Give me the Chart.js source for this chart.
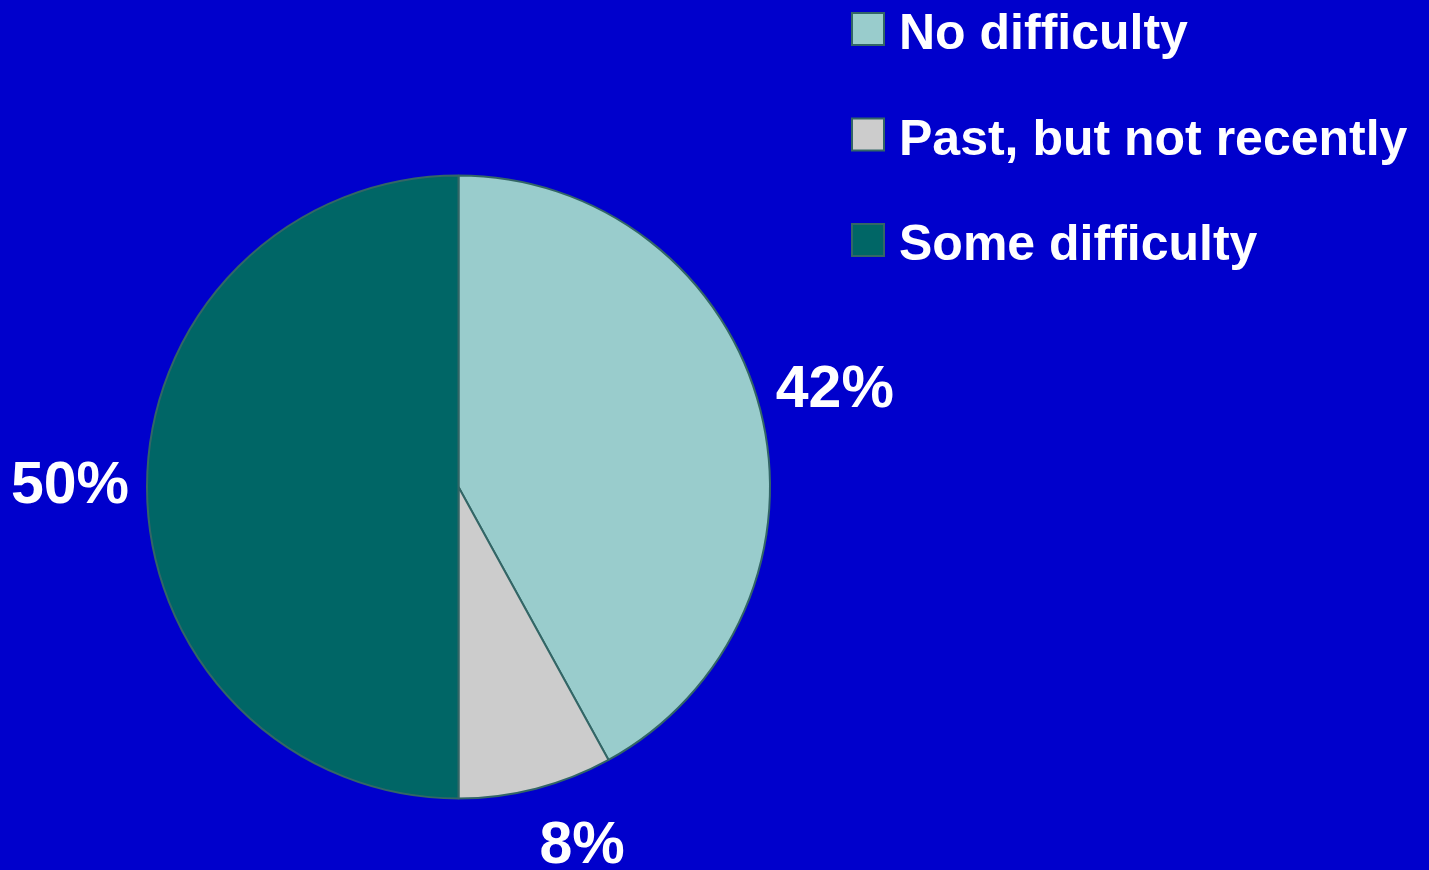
<!DOCTYPE html>
<html>
<head>
<meta charset="utf-8">
<title>Difficulty</title>
<script src="https://cdn.jsdelivr.net/npm/chart.js@4/dist/chart.umd.min.js"></script>
<style>
    html, body { margin: 0; padding: 0; background: #0000cc; }
    #wrap { width: 1429px; height: 870px; position: relative; }
</style>
</head>
<body>
<div id="wrap"><canvas id="pie-chart"></canvas></div>
<script>
// Survey answers
const categories = ['No difficulty', 'Past, but not recently', 'Some difficulty'];
const shares = [42, 8, 50];
const sliceColors = ['#99cccc', '#cccccc', '#006666'];
const edgeColor = '#336666';

// Legend in the top right corner
const legendPlugin = {
    id: 'cornerLegend',
    afterDraw(chart) {
        const ctx = chart.ctx;
        ctx.save();
        ctx.font = 'bold 50px "Liberation Sans", Arial, sans-serif';
        ctx.textBaseline = 'alphabetic';
        categories.forEach((name, i) => {
            const y = 29 + i * 105.5;
            ctx.fillStyle = sliceColors[i];
            ctx.fillRect(852, y - 16, 32, 32);
            ctx.strokeStyle = edgeColor;
            ctx.lineWidth = 2;
            ctx.strokeRect(852, y - 16, 32, 32);
            ctx.fillStyle = '#ffffff';
            ctx.fillText(name, 899, y + 20);
        });
        ctx.restore();
    }
};

// Percent labels outside each slice
const percentPlugin = {
    id: 'percentLabels',
    afterDatasetsDraw(chart, args, opts) {
        const ctx = chart.ctx;
        const meta = chart.getDatasetMeta(0);
        ctx.save();
        ctx.font = 'bold 59px "Liberation Sans", Arial, sans-serif';
        ctx.fillStyle = '#ffffff';
        ctx.textAlign = 'center';
        ctx.textBaseline = 'middle';
        meta.data.forEach((arc, i) => {
            const p = arc.getProps(['x', 'y', 'startAngle', 'endAngle', 'outerRadius'], true);
            const mid = (p.startAngle + p.endAngle) / 2;
            const r = p.outerRadius + 77;
            const nudge = opts.nudge[i] || [0, 0];
            const x = p.x + Math.cos(mid) * r + nudge[0];
            const y = p.y + Math.sin(mid) * r + nudge[1];
            ctx.fillText(shares[i] + '%', x, y);
        });
        ctx.restore();
    }
};

const chartCanvas = document.getElementById('pie-chart');
const pieChart = new Chart(chartCanvas, {
    type: 'pie',
    data: {
        labels: categories,
        datasets: [{
            data: shares,
            backgroundColor: sliceColors,
            borderColor: edgeColor,
            borderWidth: 2
        }]
    },
    options: {
        responsive: true,
        maintainAspectRatio: false,
        animation: false,
        layout: {
            padding: { left: 146, right: 658, top: 174, bottom: 70 }
        },
        plugins: {
            legend: { display: false },
            tooltip: { enabled: false },
            percentLabels: { nudge: { 1: [27, -17] } }
        }
    },
    plugins: [legendPlugin, percentPlugin]
});
</script>
</body>
</html>
